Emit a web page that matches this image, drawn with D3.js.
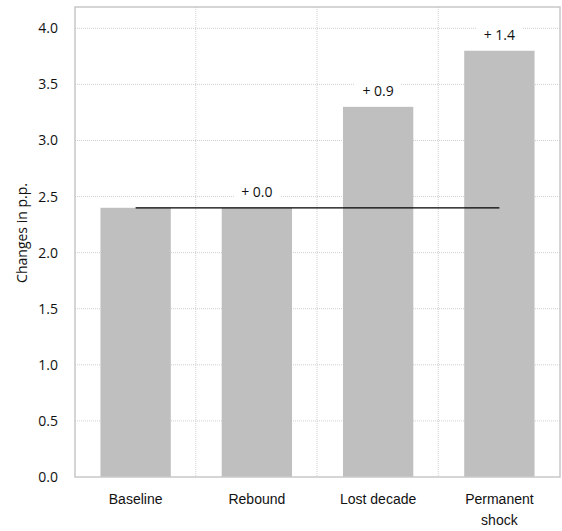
<!DOCTYPE html>
<html>
<head>
<meta charset="utf-8">
<script src="https://cdn.jsdelivr.net/npm/d3@7"></script>
<style>
  body { margin: 0; background: #fff; }
  svg { display: block; font-family: "Open Sans", "Noto Sans", sans-serif; }
</style>
</head>
<body>
<svg id="chart" width="562" height="531"></svg>
<script>
// Scenario data
const categories = ["Baseline", "Rebound", "Lost decade", "Permanent shock"];
const values = [2.4, 2.4, 3.3, 3.8];
const changeLabels = [null, "+ 0.0", "+ 0.9", "+ 1.4"];
const yTicks = [0, 0.5, 1, 1.5, 2, 2.5, 3, 3.5, 4];

const W = 562, H = 531;
const margin = { top: 7, right: 2, bottom: 54, left: 75 };
const innerW = W - margin.left - margin.right;
const innerH = H - margin.top - margin.bottom;
const FS = 14;

const svg = d3.select("#chart");
const g = svg.append("g").attr("transform", `translate(${margin.left},${margin.top})`);

const x = d3.scaleBand().domain(categories).range([0, innerW]).paddingInner(0.42).paddingOuter(0.21);
const y = d3.scaleLinear().domain([0, 4.19]).range([innerH, 0]);

// horizontal gridlines
g.append("g").selectAll("line").data(yTicks.filter(t => t > 0)).join("line")
  .attr("x1", 0).attr("x2", innerW)
  .attr("y1", d => y(d)).attr("y2", d => y(d))
  .attr("stroke", "#cfcfcf").attr("stroke-width", 1).attr("stroke-dasharray", "1,1");

// vertical gridlines between categories
const step = x.step();
g.append("g").selectAll("line").data(categories.slice(1)).join("line")
  .attr("x1", d => x(d) - x.paddingInner() * step / 2 - 0.5)
  .attr("x2", d => x(d) - x.paddingInner() * step / 2 - 0.5)
  .attr("y1", 0).attr("y2", innerH)
  .attr("stroke", "#cfcfcf").attr("stroke-width", 1).attr("stroke-dasharray", "1,1");

// bars
g.append("g").selectAll("rect").data(categories).join("rect")
  .attr("x", d => x(d))
  .attr("width", x.bandwidth())
  .attr("y", (d, i) => y(values[i]))
  .attr("height", (d, i) => innerH - y(values[i]))
  .attr("fill", "#bfbfbf");

// baseline reference line
g.append("line")
  .attr("x1", x(categories[0]) + x.bandwidth() / 2)
  .attr("x2", x(categories[3]) + x.bandwidth() / 2)
  .attr("y1", y(values[0])).attr("y2", y(values[0]))
  .attr("stroke", "#000").attr("stroke-width", 1.3);

// change labels with white backing
const lbl = g.append("g").selectAll("g").data(categories.map((c, i) => ({ c, i })).filter(d => changeLabels[d.i]))
  .join("g")
  .attr("transform", d => `translate(${x(d.c) + x.bandwidth() / 2},${y(values[d.i]) - 11})`);
lbl.append("rect")
  .attr("x", -23).attr("y", -13).attr("width", 46).attr("height", 18)
  .attr("fill", "#fff");
lbl.append("text")
  .attr("text-anchor", "middle")
  .attr("font-size", FS)
  .attr("fill", "#111")
  .text(d => changeLabels[d.i]);

// frame
g.append("rect")
  .attr("x", 0).attr("y", 0).attr("width", innerW).attr("height", innerH)
  .attr("fill", "none").attr("stroke", "#c8c8c8").attr("stroke-width", 1.5);

// y axis
const yAxis = g.append("g").call(d3.axisLeft(y).tickValues(yTicks).tickFormat(d3.format(".1f")).tickSize(0).tickPadding(17));
yAxis.select(".domain").remove();
yAxis.selectAll("text").attr("font-size", FS).attr("fill", "#111")
  .attr("font-family", "\"Open Sans\", sans-serif");

// x axis
const xAxis = g.append("g").attr("transform", `translate(0,${innerH})`)
  .call(d3.axisBottom(x).tickSize(0).tickPadding(0).tickFormat(""));
xAxis.select(".domain").remove();
xAxis.selectAll(".tick").each(function (d) {
  const words = d === "Permanent shock" ? ["Permanent", "shock"] : [d];
  const t = d3.select(this).append("text")
    .attr("text-anchor", "middle").attr("font-size", FS).attr("fill", "#111");
  words.forEach((w, k) => t.append("tspan").attr("x", 0).attr("y", 27 + k * 21).text(w));
});

// y axis title
svg.append("text")
  .attr("transform", `translate(27,233) rotate(-90)`)
  .attr("text-anchor", "middle")
  .attr("font-size", FS)
  .attr("fill", "#111")
  .text("Changes in p.p.");
</script>
</body>
</html>
